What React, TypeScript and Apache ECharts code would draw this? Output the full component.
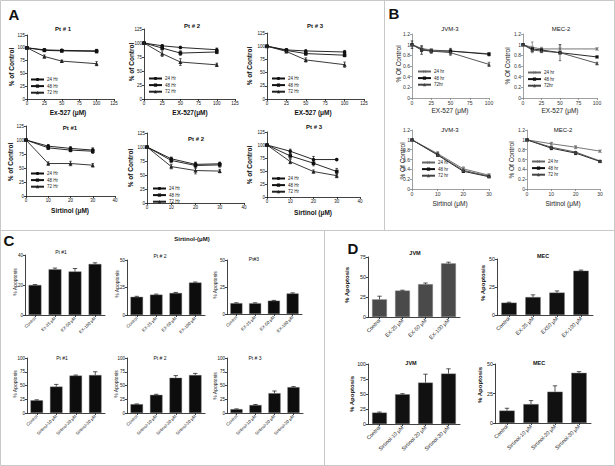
import React, { useEffect, useRef } from "react";
import * as echarts from "echarts";

const FONT = '"Liberation Sans", Arial, Helvetica, sans-serif';

// ---------------- Panel A (% of Control) ----------------
const exDoseA = [0, 25, 50, 100];
const sirtDoseA = [0, 10, 20, 30];
const hrNamesA = ["24 Hr", "48 Hr", "72 Hr"];

const aPt1Ex24 = [100, 96, 95, 94];
const aPt1Ex48 = [100, 95, 94, 93];
const aPt1Ex72 = [100, 83, 74, 69];
const aPt1ExErr24 = [0, 2, 2, 3];
const aPt1ExErr48 = [0, 2, 2, 3];
const aPt1ExErr72 = [0, 3, 2, 4];

const aPt2Ex24 = [100, 95, 92, 88];
const aPt2Ex48 = [100, 91, 82, 84];
const aPt2Ex72 = [100, 81, 66, 61];
const aPt2ExErr24 = [0, 2, 2, 3];
const aPt2ExErr48 = [0, 3, 4, 3];
const aPt2ExErr72 = [0, 5, 6, 3];

const aPt3Ex24 = [100, 93, 91, 89];
const aPt3Ex48 = [100, 92, 86, 83];
const aPt3Ex72 = [100, 90, 74, 65];
const aPt3ExErr24 = [0, 2, 2, 3];
const aPt3ExErr48 = [0, 2, 3, 3];
const aPt3ExErr72 = [0, 2, 4, 5];

const aPt1Si24 = [100, 89, 85, 82];
const aPt1Si48 = [100, 86, 82, 80];
const aPt1Si72 = [100, 58, 58, 55];
const aPt1SiErr24 = [0, 3, 3, 4];
const aPt1SiErr48 = [0, 3, 3, 4];
const aPt1SiErr72 = [0, 3, 4, 3];

const aPt2Si24 = [100, 79, 69, 70];
const aPt2Si48 = [100, 76, 67, 68];
const aPt2Si72 = [100, 65, 58, 57];
const aPt2SiErr24 = [0, 3, 4, 3];
const aPt2SiErr48 = [0, 4, 5, 4];
const aPt2SiErr72 = [0, 4, 6, 3];

const aPt3Si24 = [100, 88, 72, 72];
const aPt3Si48 = [100, 79, 65, 49];
const aPt3Si72 = [100, 68, 49, 41];
const aPt3SiErr24 = [0, 4, 6, 2];
const aPt3SiErr48 = [0, 5, 5, 6];
const aPt3SiErr72 = [0, 4, 3, 4];

// ---------------- Panel B (fraction of control) ----------------
const exDoseB = [0, 12.5, 25, 50, 100];
const sirtDoseB = [0, 10, 20, 30];

const bJvmEx24 = [1, 0.93, 0.9, 0.88, 0.83];
const bJvmEx48 = [1, 0.9, 0.88, 0.88, 0.82];
const bJvmEx72 = [1, 0.92, 0.88, 0.85, 0.63];
const bJvmExErr48 = [0.07, 0.08, 0.04, 0.05, 0.03];
const bJvmExErr72 = [0, 0.05, 0.03, 0.05, 0.04];

const bMecEx24 = [1, 0.95, 0.92, 0.92, 0.92];
const bMecEx48 = [1, 0.92, 0.9, 0.85, 0.77];
const bMecEx72 = [1, 0.9, 0.88, 0.85, 0.65];
const bMecExErr24 = [0.02, 0.1, 0.03, 0.08, 0.02];
const bMecExErr72 = [0, 0.03, 0.03, 0.15, 0.02];

const bJvmSi24 = [1, 0.72, 0.41, 0.28];
const bJvmSi48 = [1, 0.69, 0.36, 0.25];
const bJvmSi72 = [1, 0.7, 0.38, 0.26];
const bJvmSiErr = [0, 0.04, 0.04, 0.03];

const bMecSi24 = [1, 0.92, 0.85, 0.77];
const bMecSi48 = [1, 0.83, 0.73, 0.56];
const bMecSi72 = [1, 0.85, 0.75, 0.57];
const bMecSiErr = [0, 0.03, 0.03, 0.02];

// ---------------- Panel C (% Apoptosis, patients) ----------------
const cExCatsPt1 = ["Control", "Ex-25 μM", "EX-50 μM", "EX-100 μM"];
const cExCats = ["Control", "EX-25 μM", "EX-50 μM", "EX-100 μM"];
const sirtCats = ["Control", "Sirtinol-10 μM", "Sirtinol-20 μM", "Sirtinol-30 μM"];

const cPt1Ex = [20, 30.5, 29, 34];
const cPt1ExErr = [0.3, 0.8, 2, 0.8];
const cPt2Ex = [16.5, 18.5, 20, 29.5];
const cPt2ExErr = [0.5, 0.5, 0.5, 0.5];
const cPt3Ex = [10, 10, 12.3, 19];
const cPt3ExErr = [0.4, 0.4, 0.3, 0.6];

const cPt1Si = [23, 48, 68, 69];
const cPt1SiErr = [1, 4, 1, 6];
const cPt2Si = [16, 33, 64, 69];
const cPt2SiErr = [0.5, 1, 4, 3];
const cPt3Si = [7, 14.5, 36, 47];
const cPt3SiErr = [0.5, 1, 4, 1];

// ---------------- Panel D (% Apoptosis, cell lines) ----------------
const dMecExCats = ["Control", "EX-25 μM", "EX50 μM", "EX-100 μM"];
const dJvmEx = [22, 33, 41, 67];
const dJvmExErr = [4, 0.5, 1.5, 1.5];
const dMecEx = [11, 16, 20, 39.5];
const dMecExErr = [0.4, 2, 1.5, 0.6];
const dJvmSi = [19, 49.5, 69, 84];
const dJvmSiErr = [1, 1, 14, 8];
const dMecSi = [10.5, 16, 26.5, 42.5];
const dMecSiErr = [2, 3, 5, 1];

// ---------------------------------------------------------------
const crossPath = "path://M0,1L1,0L5,4L9,0L10,1L6,5L10,9L9,10L5,6L1,10L0,9L4,5Z";

function buildOption() {
  const grid: any[] = [];
  const xAxis: any[] = [];
  const yAxis: any[] = [];
  const series: any[] = [];
  const legend: any[] = [];
  const graphic: any[] = [];

  const errRender = (capW: number, color: string, upOnly: boolean) => (params: any, api: any) => {
    const x = api.value(0);
    const lo = api.value(1);
    const hi = api.value(2);
    const a = api.coord([x, hi]);
    const b = api.coord([x, lo]);
    const st = { stroke: color, lineWidth: 0.7 };
    const ch: any[] = [
      { type: "line", shape: { x1: a[0], y1: a[1], x2: b[0], y2: b[1] }, style: st },
      { type: "line", shape: { x1: a[0] - capW, y1: a[1], x2: a[0] + capW, y2: a[1] }, style: st },
    ];
    if (!upOnly) ch.push({ type: "line", shape: { x1: b[0] - capW, y1: b[1], x2: b[0] + capW, y2: b[1] }, style: st });
    return { type: "group", children: ch };
  };

  const axisStyle = (kind: string) => {
    if (kind === "excel") {
      return {
        axisLine: { show: true, onZero: false, lineStyle: { color: "#777", width: 0.7 } },
        axisTick: { show: true, length: 2, lineStyle: { color: "#777", width: 0.7 } },
        axisLabel: { fontSize: 5, margin: 2, color: "#333", fontFamily: FONT, interval: 0 },
        splitLine: { show: false },
      };
    }
    return {
      axisLine: { show: true, onZero: false, lineStyle: { color: "#111", width: 0.8 } },
      axisTick: { show: true, length: 2, lineStyle: { color: "#111", width: 0.8 } },
      axisLabel: { fontSize: 4.5, margin: 2, color: "#111", fontFamily: FONT, interval: 0 },
      splitLine: { show: false },
    };
  };

  const linePanel = (cfg: any) => {
    const gi = grid.length;
    const [left, top, width, height] = cfg.box;
    grid.push({ left, top, width, height, containLabel: false, outerBoundsMode: "none" });
    const st = axisStyle(cfg.kind);
    xAxis.push({ gridIndex: gi, type: "value", min: cfg.x[0], max: cfg.x[1], interval: cfg.x[2], ...st });
    yAxis.push({ gridIndex: gi, type: "value", min: cfg.y[0], max: cfg.y[1], interval: cfg.y[2], ...st });
    cfg.lines.forEach((l: any) => {
      series.push({
        type: "line",
        name: l.name,
        xAxisIndex: gi,
        yAxisIndex: gi,
        data: cfg.xs.map((x: number, i: number) => [x, l.data[i]]),
        symbol: l.symbol,
        symbolSize: l.size,
        lineStyle: { color: l.color, width: 0.9 },
        itemStyle: { color: l.color },
        z: 3,
        silent: true,
      });
      if (l.err) {
        series.push({
          type: "custom",
          xAxisIndex: gi,
          yAxisIndex: gi,
          clip: false,
          z: 2,
          silent: true,
          renderItem: errRender(1.3, l.color, false),
          data: cfg.xs.map((x: number, i: number) => [x, l.data[i] - l.err[i], l.data[i] + l.err[i]]),
        });
      }
    });
    legend.push({
      show: true,
      orient: "vertical",
      left: cfg.legend[0],
      top: cfg.legend[1],
      padding: 0,
      itemWidth: 13,
      itemHeight: 4,
      itemGap: 1.6,
      selectedMode: false,
      data: cfg.lines.map((l: any) => l.name),
      textStyle: { fontSize: 4.5, color: "#222", fontFamily: FONT, padding: [0, 0, 0, -2] },
    });
  };

  const barPanel = (cfg: any) => {
    const gi = grid.length;
    const [left, top, width, height] = cfg.box;
    grid.push({ left, top, width, height, containLabel: false, outerBoundsMode: "none" });
    const st = axisStyle("prism");
    xAxis.push({
      gridIndex: gi,
      type: "category",
      data: cfg.cats,
      ...st,
      axisTick: { ...st.axisTick, alignWithLabel: true },
      axisLabel: { ...st.axisLabel, rotate: 45, fontSize: cfg.catSize, margin: 2.5 },
    });
    yAxis.push({
      gridIndex: gi,
      type: "value",
      min: cfg.y[0],
      max: cfg.y[1],
      interval: cfg.y[2],
      ...st,
      axisLabel: { ...st.axisLabel, fontSize: cfg.tickSize },
    });
    series.push({
      type: "bar",
      xAxisIndex: gi,
      yAxisIndex: gi,
      data: cfg.values,
      barWidth: "64%",
      itemStyle: { color: cfg.color, borderColor: "#777", borderWidth: 0.4 },
      silent: true,
      z: 2,
    });
    series.push({
      type: "custom",
      xAxisIndex: gi,
      yAxisIndex: gi,
      clip: false,
      silent: true,
      z: 3,
      renderItem: errRender(2.2, "#111", true),
      data: cfg.values.map((v: number, i: number) => [i, v, v + cfg.err[i]]),
    });
  };

  // ---------- A ----------
  const aLines = (d24: number[], d48: number[], d72: number[], e24: number[], e48: number[], e72: number[]) => [
    { name: hrNamesA[0], data: d24, err: e24, symbol: "circle", size: 3.6, color: "#111" },
    { name: hrNamesA[1], data: d48, err: e48, symbol: "rect", size: 3.6, color: "#111" },
    { name: hrNamesA[2], data: d72, err: e72, symbol: "triangle", size: 4, color: "#222" },
  ];
  linePanel({ kind: "prism", box: [27, 35, 87, 64], x: [0, 125, 25], y: [0, 125, 25], xs: exDoseA, legend: [30, 77], lines: aLines(aPt1Ex24, aPt1Ex48, aPt1Ex72, aPt1ExErr24, aPt1ExErr48, aPt1ExErr72) });
  linePanel({ kind: "prism", box: [144, 29, 91, 70], x: [0, 125, 25], y: [0, 125, 25], xs: exDoseA, legend: [148, 76], lines: aLines(aPt2Ex24, aPt2Ex48, aPt2Ex72, aPt2ExErr24, aPt2ExErr48, aPt2ExErr72) });
  linePanel({ kind: "prism", box: [267, 33, 97, 66], x: [0, 125, 25], y: [0, 125, 25], xs: exDoseA, legend: [271, 76], lines: aLines(aPt3Ex24, aPt3Ex48, aPt3Ex72, aPt3ExErr24, aPt3ExErr48, aPt3ExErr72) });
  linePanel({ kind: "prism", box: [26, 126, 89, 70], x: [0, 40, 10], y: [0, 125, 25], xs: sirtDoseA, legend: [30, 171], lines: aLines(aPt1Si24, aPt1Si48, aPt1Si72, aPt1SiErr24, aPt1SiErr48, aPt1SiErr72) });
  linePanel({ kind: "prism", box: [147, 133, 97, 70], x: [0, 40, 10], y: [0, 125, 25], xs: sirtDoseA, legend: [152, 186], lines: aLines(aPt2Si24, aPt2Si48, aPt2Si72, aPt2SiErr24, aPt2SiErr48, aPt2SiErr72) });
  linePanel({ kind: "prism", box: [267, 132, 93, 65], x: [0, 40, 10], y: [0, 125, 25], xs: sirtDoseA, legend: [271, 176], lines: aLines(aPt3Si24, aPt3Si48, aPt3Si72, aPt3SiErr24, aPt3SiErr48, aPt3SiErr72) });

  // ---------- B ----------
  const bLines = (n3: string, d24: number[], d48: number[], d72: number[], e24: any, e48: any, e72: any) => [
    { name: "24 hr", data: d24, err: e24, symbol: crossPath, size: 3.5, color: "#666" },
    { name: "48 hr", data: d48, err: e48, symbol: "rect", size: 3.2, color: "#111" },
    { name: n3, data: d72, err: e72, symbol: "triangle", size: 3.6, color: "#444" },
  ];
  linePanel({ kind: "excel", box: [412, 34, 77, 64], x: [0, 100, 25], y: [0, 1.2, 0.2], xs: exDoseB, legend: [417, 69], lines: bLines("72hr", bJvmEx24, bJvmEx48, bJvmEx72, null, bJvmExErr48, bJvmExErr72) });
  linePanel({ kind: "excel", box: [523, 34, 74, 64], x: [0, 100, 25], y: [0, 1.2, 0.2], xs: exDoseB, legend: [527, 70], lines: bLines("72hr", bMecEx24, bMecEx48, bMecEx72, bMecExErr24, null, bMecExErr72) });
  linePanel({ kind: "excel", box: [412, 130, 77, 59], x: [0, 30, 10], y: [0, 1.2, 0.2], xs: sirtDoseB, legend: [421, 160], lines: bLines("72 hr", bJvmSi24, bJvmSi48, bJvmSi72, bJvmSiErr, null, bJvmSiErr) });
  linePanel({ kind: "excel", box: [527, 130, 73, 59], x: [0, 30, 10], y: [0, 1.2, 0.2], xs: sirtDoseB, legend: [531, 159], lines: bLines("72 hr", bMecSi24, bMecSi48, bMecSi72, bMecSiErr, bMecSiErr, null) });

  // ---------- C ----------
  barPanel({ box: [25, 255, 80, 60], y: [0, 40, 20], cats: cExCatsPt1, values: cPt1Ex, err: cPt1ExErr, color: "#0d0d0d", catSize: 4.3, tickSize: 4.5 });
  barPanel({ box: [127, 260, 78, 55], y: [0, 50, 25], cats: cExCats, values: cPt2Ex, err: cPt2ExErr, color: "#0d0d0d", catSize: 4.3, tickSize: 4.5 });
  barPanel({ box: [227, 260, 75, 54], y: [0, 50, 25], cats: cExCats, values: cPt3Ex, err: cPt3ExErr, color: "#0d0d0d", catSize: 4.3, tickSize: 4.5 });
  barPanel({ box: [27, 358, 78, 55], y: [0, 100, 25], cats: sirtCats, values: cPt1Si, err: cPt1SiErr, color: "#0d0d0d", catSize: 4.3, tickSize: 4.5 });
  barPanel({ box: [127, 358, 78, 55], y: [0, 100, 25], cats: sirtCats, values: cPt2Si, err: cPt2SiErr, color: "#0d0d0d", catSize: 4.3, tickSize: 4.5 });
  barPanel({ box: [227, 358, 76, 55], y: [0, 100, 25], cats: sirtCats, values: cPt3Si, err: cPt3SiErr, color: "#0d0d0d", catSize: 4.3, tickSize: 4.5 });

  // ---------- D ----------
  barPanel({ box: [368, 257, 92, 60], y: [0, 75, 25], cats: cExCats, values: dJvmEx, err: dJvmExErr, color: "#4a4a4a", catSize: 5.3, tickSize: 5.3 });
  barPanel({ box: [497, 259, 96, 56], y: [0, 50, 25], cats: dMecExCats, values: dMecEx, err: dMecExErr, color: "#111", catSize: 5.3, tickSize: 5.3 });
  barPanel({ box: [368, 364, 92, 60], y: [0, 100, 25], cats: sirtCats, values: dJvmSi, err: dJvmSiErr, color: "#111", catSize: 5.3, tickSize: 5.3 });
  barPanel({ box: [495, 364, 96, 59], y: [0, 50, 25], cats: sirtCats, values: dMecSi, err: dMecSiErr, color: "#111", catSize: 5.3, tickSize: 5.3 });

  // ---------- texts & frame ----------
  const t = (x: number, y: number, text: string, size: number, bold = false, rot = 0, color = "#111") => {
    graphic.push({
      type: "text",
      x,
      y,
      rotation: rot,
      silent: true,
      style: {
        text,
        fontSize: size,
        fontFamily: FONT,
        fontWeight: bold ? "bold" : "normal",
        fill: color,
        textAlign: "center",
        textVerticalAlign: "middle",
        align: "center",
        verticalAlign: "middle",
      },
    });
  };
  const R = Math.PI / 2;
  const ln = (x1: number, y1: number, x2: number, y2: number) =>
    graphic.push({ type: "line", silent: true, shape: { x1, y1, x2, y2 }, style: { stroke: "#c8c8c8", lineWidth: 1 } });

  graphic.push({ type: "rect", silent: true, shape: { x: 0.5, y: 0.5, width: 614, height: 465 }, style: { fill: "none", stroke: "#c8c8c8", lineWidth: 1 } });
  ln(384.5, 0, 384.5, 230);
  ln(0, 230.5, 615, 230.5);
  ln(324.5, 230, 324.5, 466);

  // panel letters
  t(14, 14, "A", 15, true);
  t(394, 13, "B", 15, true);
  t(9, 240, "C", 15, true);
  t(353, 248, "D", 15, true);

  // A titles & axis names
  t(63, 29, "Pt # 1", 6, true);
  t(192, 26, "Pt # 2", 6, true);
  t(315, 26, "Pt # 3", 6, true);
  t(70, 128, "Pt #1", 6, true);
  t(196, 139, "Pt # 2", 6, true);
  t(314, 127, "Pt # 3", 6, true);
  t(68, 112, "Ex-527 (μM)", 6.5, true);
  t(190, 112, "EX-527(μM)", 6.5, true);
  t(313, 112, "EX-527 (μM)", 6.5, true);
  t(70, 210, "Sirtinol (μM)", 6.5, true);
  t(313, 212, "Sirtinol (μM)", 6.5, true);
  t(11, 67, "% of Control", 6.5, true, R);
  t(131, 62, "% of Control", 6.5, true, R);
  t(249, 66, "% of Control", 6.5, true, R);
  t(10, 162, "% of Control", 6.5, true, R);
  t(130, 168, "% of Control", 6.5, true, R);
  t(249, 165, "% of Control", 6.5, true, R);

  // B titles & axis names
  t(450, 29, "JVM-3", 6, false);
  t(561, 29, "MEC-2", 6, false);
  t(450, 130, "JVM-3", 6, false);
  t(563, 130, "MEC-2", 6, false);
  t(450, 110, "EX-527 (μM)", 6.5, false, 0, "#222");
  t(560, 110, "EX-527 (μM)", 6.5, false, 0, "#222");
  t(450, 203, "Sirtinol (μM)", 6.5, false, 0, "#222");
  t(563, 203, "Sirtinol (μM)", 6.5, false, 0, "#222");
  t(398, 64, "% Of Control", 6.5, false, R, "#222");
  t(507, 66, "% Of Control", 6.5, false, R, "#222");
  t(402, 161, "% Of Control", 6.5, false, R, "#222");
  t(511, 160, "% Of Control", 6.5, false, R, "#222");

  // C texts
  t(192, 239, "Sirtinol-(μM)", 6, true);
  t(61, 252, "Pt #1", 5, false);
  t(160, 256, "Pt # 2", 5, false);
  t(254, 259, "Pt#3", 5, false);
  t(62, 358, "Pt #1", 5, false);
  t(160, 358, "Pt # 2", 5, false);
  t(255, 358, "Pt # 3", 5, false);
  t(15, 282, "% Apoptosis", 5, false, R);
  t(117, 284, "% Apoptosis", 5, false, R);
  t(215, 285, "% Apoptosis", 5, false, R);
  t(15, 384, "% Apoptosis", 5, false, R);
  t(116, 384, "% Apoptosis", 5, false, R);
  t(215, 386, "% Apoptosis", 5, false, R);

  // D texts
  t(415, 253, "JVM", 5.5, true);
  t(543, 256, "MEC", 5.5, true);
  t(411, 363, "JVM", 5.5, true);
  t(539, 363, "MEC", 5.5, true);
  t(347, 285, "% Apoptosis", 6, true, R);
  t(483, 283, "% Apoptosis", 6, true, R);
  t(352, 394, "% Apoptosis", 6, true, R);
  t(480, 385, "% Apoptosis", 6, true, R);

  return {
    animation: false,
    backgroundColor: "#ffffff",
    textStyle: { fontFamily: FONT },
    grid,
    xAxis,
    yAxis,
    series,
    legend,
    graphic: { elements: graphic },
  };
}

export default function App() {
  const ref = useRef<HTMLDivElement>(null);
  useEffect(() => {
    if (!ref.current) return;
    const chart = echarts.init(ref.current, undefined, { renderer: "svg" });
    chart.setOption(buildOption() as any);
    return () => chart.dispose();
  }, []);
  return (
    <div
      ref={ref}
      style={{ position: "absolute", left: 0, top: 0, width: 615, height: 466, background: "#fff" }}
    />
  );
}
